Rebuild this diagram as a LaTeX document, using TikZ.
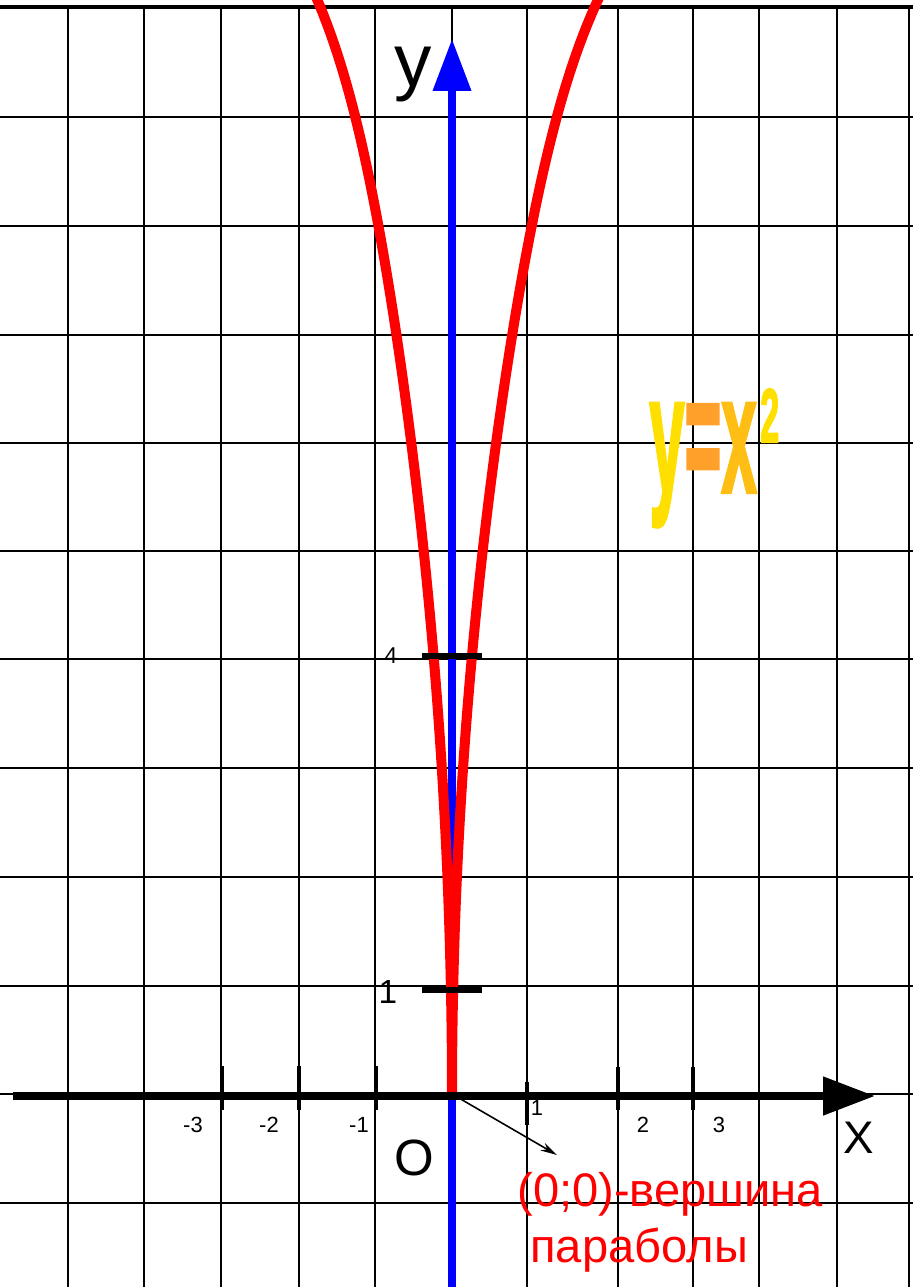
\documentclass[tikz,border=0pt]{standalone}
\usepackage{fontspec}
\setmainfont{Liberation Sans}
\newfontfamily\eqfont[FakeBold=2.5]{Liberation Sans Bold}
\usepackage{xcolor}
\usepackage{tikz}
\usetikzlibrary{arrows.meta}
\definecolor{axblue}{HTML}{0000FF}
\definecolor{parred}{HTML}{FF0000}
\definecolor{eqyel}{HTML}{FFDF00}
\definecolor{eqgold}{HTML}{FFBE14}
\definecolor{eqorange}{HTML}{FFA02A}

\begin{document}
\begin{tikzpicture}[x=0.02cm, y=-0.02cm,
    gridline/.style={black, line width=1.1pt},
    axisline/.style={line width=4.5pt, -{Triangle[length=29.5pt, width=21pt]}},
    xtick/.style={black, line width=2.6pt},
    ybar/.style={black, line width=3.3pt},
    parab/.style={parred, line width=5.7pt, line join=round},
    ticklbl/.style={inner sep=0pt, anchor=base, font=\fontsize{12.5}{15}\selectfont},
    redlbl/.style={parred, inner sep=0pt, anchor=base west, font=\fontsize{26.8}{30}\selectfont},
    eqtxt/.style={inner sep=0pt, anchor=base west, font=\fontsize{40}{44}\eqfont}]
  \useasboundingbox (0,0) rectangle (913,1287);
  \clip (0,0) rectangle (913,1287);
  % squared paper, thick line along the top
  \draw[gridline, line width=2.8pt] (0,7) -- (913,7);
  \foreach \gy in {117,226,335,443,551,659,768,877,986,1094,1203}
    \draw[gridline] (0,\gy) -- (913,\gy);
  \foreach \gx in {68,144,221,299,375,452,527,618,693,759,837,909}
    \draw[gridline] (\gx,7) -- (\gx,1287);
  % axes ends
  \coordinate (O) at (452,1094);
  \coordinate (xbeg) at (13,1096);
  \coordinate (xend) at (875,1096);
  \coordinate (ybeg) at (452,1287);
  \coordinate (yend) at (452,39);
  \coordinate (vtip) at (557,1155);
  % the y axis, then the curve over it
  \draw[axisline, axblue, line width=4pt] (ybeg) -- (yend);
  % u = height above O in thousands of px; right branch a bit wider
  \draw[parab] plot[domain=-1.12:1.12, samples=225, variable=\u]
    ({452 + (1+0.04*sign(\u))*(100*\u*abs(\u) + 7*sign(\u)*abs(\u)^12)},
     {1094 - 1000*abs(\u)});
  \draw[axisline] (xbeg) -- (xend);
  % ticks on x, short bars on y
  \foreach \px/\ya/\yb in {222/1066/1110, 299/1066/1110, 376/1066/1110,
      527/1082/1125, 618/1067/1110, 693/1067/1110}
    \draw[xtick] (\px,\ya) -- (\px,\yb);
  \draw[ybar] (422,656) -- (482,656);
  \draw[ybar] (422,990) -- (482,990);
  % numbers
  \foreach \i/\px/\py/\t in {1/193/1132/-3, 2/269/1132/-2, 3/359/1132/-1,
      4/537/1115/1, 5/643/1132/2, 6/719/1132/3}
    \node[ticklbl] (xt\i) at (\px,\py) {\t};
  \node[ticklbl, font=\fontsize{13}{15}\selectfont] (yt4) at (391,663) {4};
  \node[ticklbl, font=\fontsize{19}{22}\selectfont] (yt1) at (388,1003) {1};
  % axis names
  \node[ticklbl, font=\fontsize{42.5}{48}\selectfont] (ylbl) at (413,87) {y};
  \node[ticklbl, font=\fontsize{26}{30}\selectfont] (xlbl) at (859,1153) {X};
  \node[ticklbl, font=\fontsize{29}{33}\selectfont] (olbl) at (414,1175) {O};
  % vertex note
  \draw[black, line width=0.9pt, -{Stealth[length=9.5pt, width=5pt]}] (O) -- (vtip);
  \node[redlbl] (vtx1) at (517,1206) {(0;0)-вершина};
  \node[redlbl] (vtx2) at (530,1262) {параболы};
  % formula
  \node[eqtxt] (eq) at (649,492)
    {\scalebox{0.9}[2.38]{\textcolor{eqyel}{y}\textcolor{eqorange}{=}\textcolor{eqgold}{x}}%
     \hspace{2pt}\raisebox{28.3pt}{\scalebox{0.49}[1.09]{\textcolor{eqyel}{2}}}};
\end{tikzpicture}
\end{document}
